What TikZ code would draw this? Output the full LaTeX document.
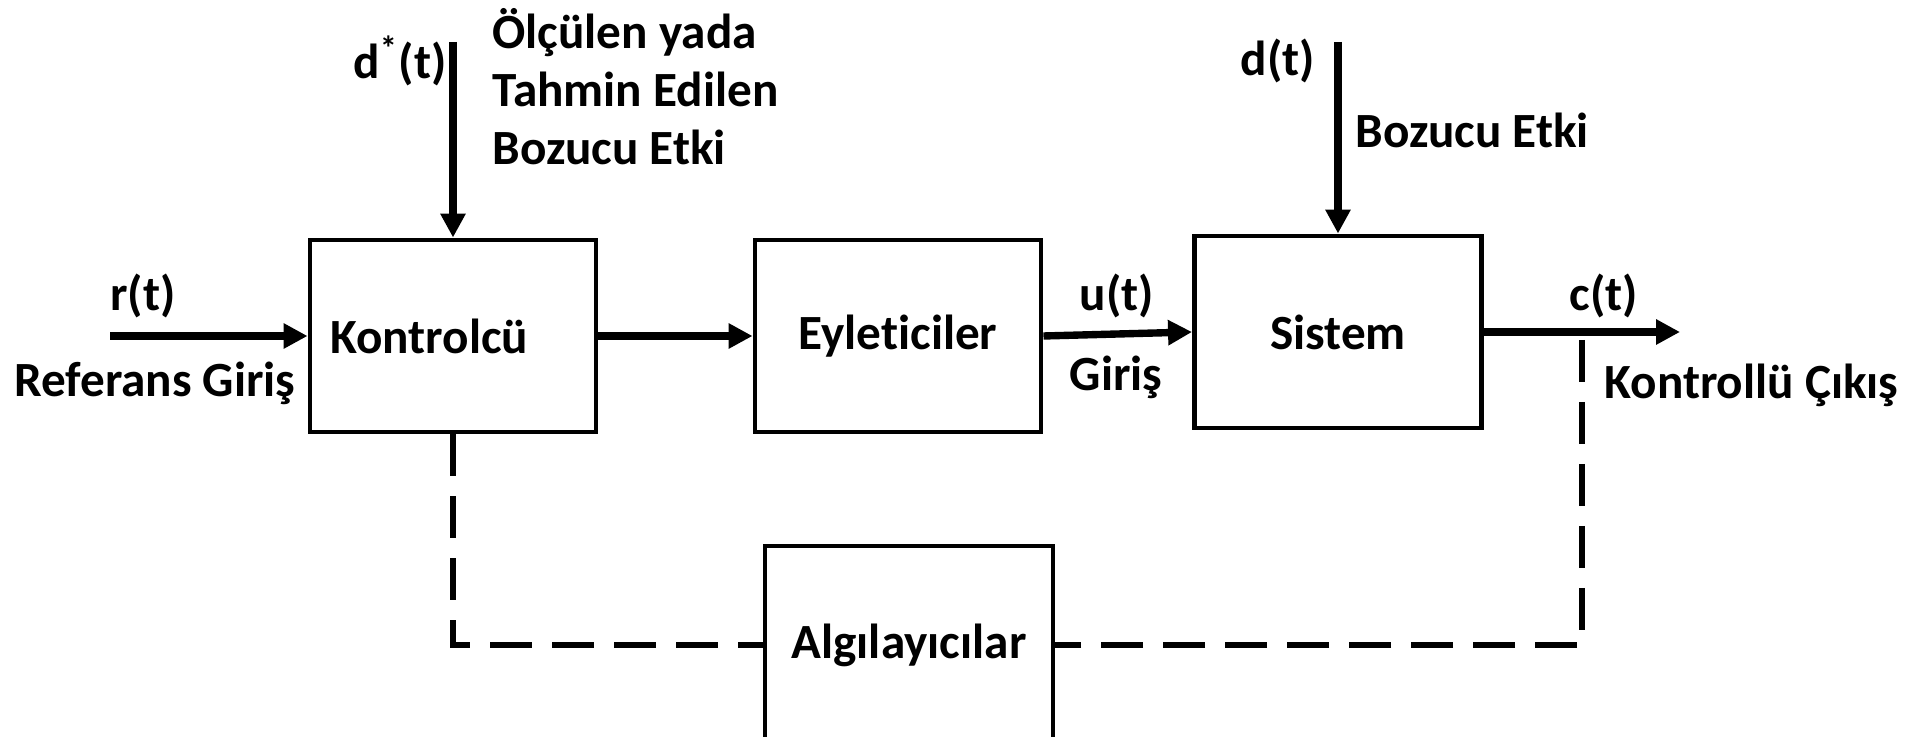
\documentclass[tikz,border=0pt]{standalone}
\usepackage{fontspec}
\setmainfont{Carlito}[Ligatures=NoCommon]
\usetikzlibrary{arrows.meta}

\begin{document}
\begin{tikzpicture}[font=\fontsize{14}{16.5}\selectfont\bfseries]
  \useasboundingbox (0,0) rectangle (19.08,-7.37);
  \tikzstyle{blok}=[draw, line width=1.4pt, minimum width=2.86cm, minimum height=1.92cm]
  \tikzstyle{ok}=[line width=2.1pt, -{Triangle[length=0.24cm,width=0.24cm]}]
  \tikzstyle{geri}=[line width=1.6pt, dash pattern=on 0.42cm off 0.2cm]

  % bloklar
  \node[blok, text width=2.46cm, align=left] (kontrol) at (4.53,-3.36) {Kontrolcü};
  \node[blok] (eyle) at (8.98,-3.36) {Eyleticiler};
  \node[blok, minimum width=2.87cm] (sistem) at (13.38,-3.32) {Sistem};
  \node[blok, minimum width=2.88cm, minimum height=1.98cm] (algi) at (9.09,-6.45) {Algılayıcılar};

  \coordinate (giris) at (1.10,-3.36);
  \coordinate (cikis) at (16.80,-3.32);
  \coordinate (dy) at (4.53,-0.42);
  \coordinate (d) at (13.38,-0.42);
  \coordinate (ayrim) at (15.82,-3.40);

  % oklar
  \draw[ok] (giris) -- (kontrol.west);
  \draw[ok] (kontrol.east) -- (eyle.west);
  \draw[ok] (eyle.east) -- (sistem.west);
  \draw[ok] (sistem.east) -- (cikis);
  \draw[ok] (dy) -- (kontrol.north);
  \draw[ok] (d) -- (sistem.north);

  % geri besleme
  \draw[geri] (kontrol.south) -- (kontrol.south |- algi.west) -- (algi.west);
  \draw[geri] (ayrim) -- (ayrim |- algi.east) -- (algi.east);

  % etiketler
  \node (r) at (1.43,-2.96) {r(t)};
  \node (ref) at (1.55,-3.83) {Referans Giriş};
  \node (dyl) at (4.00,-0.61) {d\textsuperscript{*}(t)};
  \node[anchor=west, align=left] (tahmin) at (4.80,-0.87) {Ölçülen yada\\Tahmin Edilen\\Bozucu Etki};
  \node (u) at (11.17,-2.96) {u(t)};
  \node (g) at (11.16,-3.77) {Giriş};
  \node (dl) at (12.78,-0.61) {d(t)};
  \node[anchor=west] (bozucu) at (13.43,-1.30) {Bozucu Etki};
  \node (c) at (16.04,-2.96) {c(t)};
  \node[anchor=west] (kc) at (15.92,-3.85) {Kontrollü Çıkış};
\end{tikzpicture}
\end{document}
